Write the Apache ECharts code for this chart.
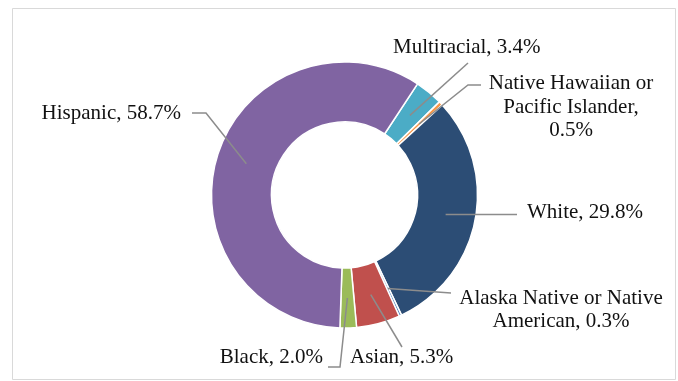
<!DOCTYPE html>
<html>
<head>
<meta charset="utf-8">
<script src="https://cdn.jsdelivr.net/npm/echarts@6/dist/echarts.min.js"></script>
<style>
  html, body { margin: 0; padding: 0; background: #fff; }
  #chart { width: 678px; height: 381px; }
</style>
</head>
<body>
<div id="chart"></div>
<script>
// Enrollment share by race/ethnicity, listed clockwise from the Multiracial slice
const categories = ['Multiracial', 'Native Hawaiian or Pacific Islander', 'White',
  'Alaska Native or Native American', 'Asian', 'Black', 'Hispanic'];
const shares = [3.4, 0.5, 29.8, 0.3, 5.3, 2.0, 58.7];
// Label text that precedes each percentage, with its line breaks
const labelHeads = ['Multiracial, ', 'Native Hawaiian or\nPacific Islander,\n', 'White, ',
  'Alaska Native or Native\nAmerican, ', 'Asian, ', 'Black, ', 'Hispanic, '];
const sliceColors = ['#4BACC6', '#F79646', '#2C4D75', '#4F81BD', '#C0504D', '#9BBB59', '#8064A2'];

// Ring geometry (px)
const CX = 344.5, CY = 195, R_IN = 73, R_OUT = 133;
const R_MID = (R_IN + R_OUT) / 2;
const START_ANGLE = 56.7;

// Where each label sits and how its leader line bends toward it
const labelSpots = [
  { x: 393, y: 47,  align: 'left',   guide: [[468, 63]] },
  { x: 571, y: 107, align: 'center', guide: [[468, 85], [481, 85]] },
  { x: 527, y: 212, align: 'left',   guide: [[517, null]] },
  { x: 561, y: 310, align: 'center', guide: [[451, 293]] },
  { x: 350, y: 357, align: 'left',   guide: [[402, 347]] },
  { x: 323, y: 357, align: 'right',  guide: [[340, 367], [328, 367]] },
  { x: 181, y: 113, align: 'right',  guide: [[206, 113], [192, 113]] }
];

const chart = echarts.init(document.getElementById('chart'), null, { renderer: 'canvas' });

const ringBase = {
  type: 'pie',
  center: [CX, CY],
  radius: [R_IN, R_OUT],
  startAngle: START_ANGLE,
  clockwise: true,
  avoidLabelOverlap: false,
  silent: true
};

chart.setOption({
  backgroundColor: '#ffffff',
  animation: false,
  graphic: [{
    type: 'rect',
    shape: { x: 12.5, y: 8.5, width: 663, height: 371 },
    style: { fill: 'none', stroke: '#d9d9d9', lineWidth: 1 },
    silent: true
  }],
  series: [
    // Coloured ring
    Object.assign({}, ringBase, {
      z: 2,
      itemStyle: { borderColor: '#ffffff', borderWidth: 1.5 },
      label: { show: false },
      labelLine: { show: false },
      data: categories.map(function (name, i) {
        return { name: name, value: shares[i], itemStyle: { color: sliceColors[i] } };
      })
    }),
    // Same ring drawn clear on top, carrying the labels and leader lines
    Object.assign({}, ringBase, {
      z: 3,
      itemStyle: { color: 'rgba(0,0,0,0)', borderWidth: 0 },
      label: {
        show: true,
        position: 'outside',
        fontFamily: 'Liberation Serif',
        fontSize: 21,
        lineHeight: 23.5,
        color: '#111111',
        formatter: function (p) {
          return labelHeads[p.dataIndex] + shares[p.dataIndex].toFixed(1) + '%';
        }
      },
      labelLine: {
        show: true,
        showAbove: true,
        length: 10,
        length2: 10,
        lineStyle: { color: '#8c8c8c', width: 1.5 }
      },
      labelLayout: function (params) {
        const spot = labelSpots[params.dataIndex];
        const p0 = params.labelLinePoints ? params.labelLinePoints[0] : null;
        if (!p0) return { x: spot.x, y: spot.y, align: spot.align, verticalAlign: 'middle' };
        const dx = p0[0] - CX, dy = p0[1] - CY;
        const d = Math.hypot(dx, dy) || 1;
        const start = [CX + dx / d * R_MID, CY + dy / d * R_MID];
        const pts = [start];
        spot.guide.forEach(function (g) {
          pts.push([g[0], g[1] == null ? start[1] : g[1]]);
        });
        return {
          x: spot.x,
          y: spot.y,
          align: spot.align,
          verticalAlign: 'middle',
          labelLinePoints: pts
        };
      },
      data: categories.map(function (name, i) {
        return { name: name, value: shares[i] };
      })
    })
  ]
});
</script>
</body>
</html>
